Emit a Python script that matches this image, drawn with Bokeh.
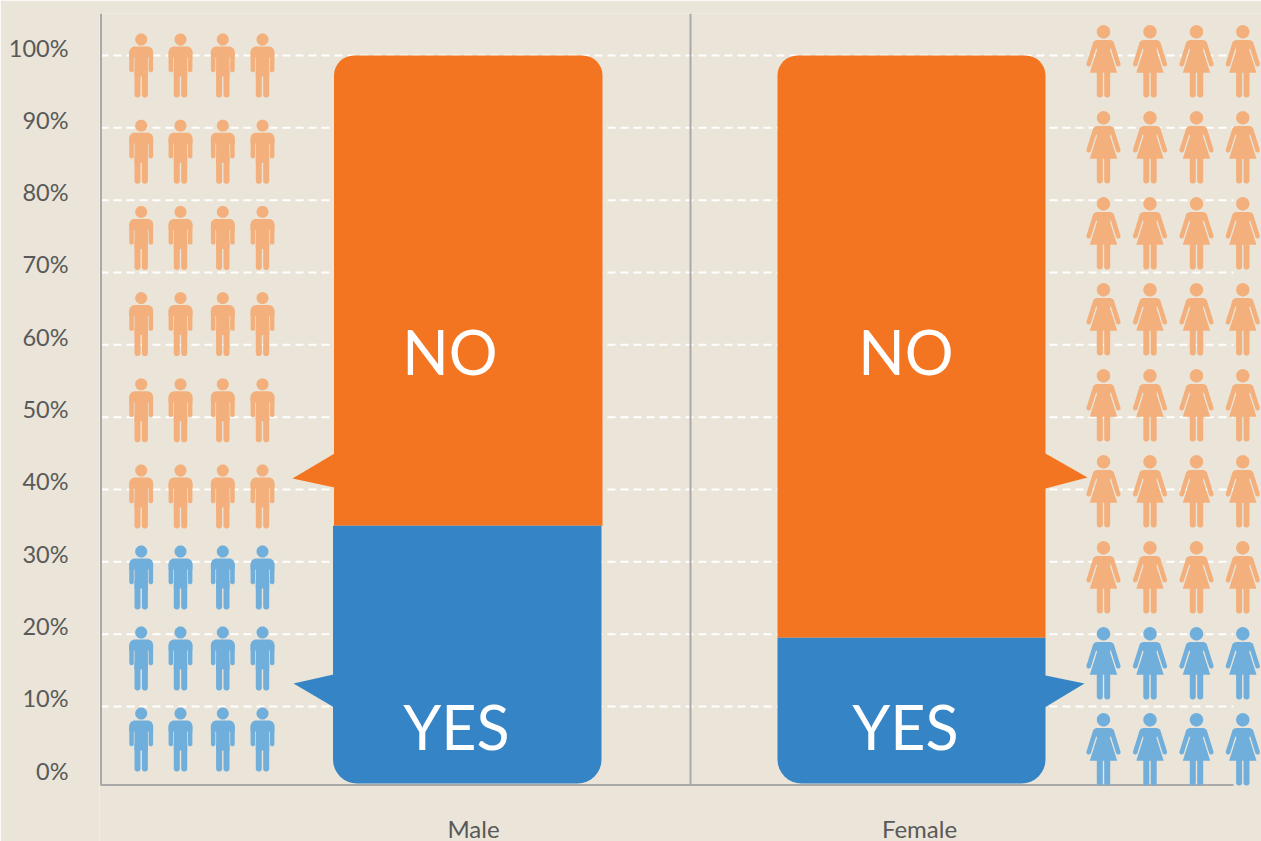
import math
from bokeh.embed import file_html
from bokeh.resources import INLINE
from bokeh.plotting import figure
from bokeh.models import Range1d, LinearAxis, FixedTicker
from bokeh.core.properties import value

# ---- data ----
categories = ["Male", "Female"]
yes_share = [35, 19.5]
no_share = [65, 80.5]
icon_yes_rows = [3, 2]
icon_no_rows = [6, 7]
y_ticks = [0, 10, 20, 30, 40, 50, 60, 70, 80, 90, 100]
y_labels = ["0%", "10%", "20%", "30%", "40%", "50%", "60%", "70%", "80%", "90%", "100%"]

# ---- colours ----
BG = "#EAE5D8"
ORANGE = "#F37521"
BLUE = "#3584C6"
L_ORANGE = "#F3B07C"
L_BLUE = "#70AEDB"
AXIS = "#A9A9A9"
TEXT = "#595959"

# ---- layout (page pixels) ----
W, H = 1261, 841
F_L, F_R, F_T, F_B = 99, 1261, 13, 841
AXIS_PX = 786
X0, XU = 473, 446          # category 0 position, pixels per category
Y0, YU = 778.3, 7.233      # 0 % position, pixels per percent


def X(px):
    return (px - X0) / XU


def Y(py):
    return (Y0 - py) / YU


def arc(cx, cy, r, a0, a1, n=8):
    return [(cx + r * math.cos(math.radians(a0 + (a1 - a0) * i / n)),
             cy + r * math.sin(math.radians(a0 + (a1 - a0) * i / n))) for i in range(n + 1)]


def rrect(l, t, r, b, rt, rb):
    pts = []
    pts += arc(l + rt, t + rt, rt, 180, 270) if rt else [(l, t)]
    pts += arc(r - rt, t + rt, rt, 270, 360) if rt else [(r, t)]
    pts += arc(r - rb, b - rb, rb, 0, 90) if rb else [(r, b)]
    pts += arc(l + rb, b - rb, rb, 90, 180) if rb else [(l, b)]
    return pts


def capsule(x1, y1, x2, y2, w):
    a = math.degrees(math.atan2(y2 - y1, x2 - x1))
    return arc(x1, y1, w / 2, a + 90, a + 270) + arc(x2, y2, w / 2, a - 90, a + 90)


def circle(r):
    return arc(0, 0, r, 0, 360, 36)


def man():
    return [
        circle(6),
        rrect(-11.9, 7, 11.9, 18, 5.5, 0),
        rrect(-11.9, 12, -7.4, 32.7, 0, 2),
        rrect(7.4, 12, 11.9, 32.7, 0, 2),
        rrect(-6.7, 12, 6.7, 37, 0, 0),
        rrect(-6.7, 30, -0.7, 58, 0, 2.8),
        rrect(0.7, 30, 6.7, 58, 0, 2.8),
    ]


def woman():
    body = arc(-6.7, 11.8, 3.5, 180, 270) + arc(6.7, 11.8, 3.5, 270, 360)
    body += [(6.4, 18), (13.7, 41), (-13.7, 41), (-6.4, 18)]
    return [
        circle(6.7),
        body,
        capsule(-8.2, 11.5, -14.8, 32.4, 4.6),
        capsule(8.2, 11.5, 14.8, 32.4, 4.6),
        rrect(-6.7, 38, -0.7, 65.7, 0, 2.8),
        rrect(0.7, 38, 6.7, 65.7, 0, 2.8),
    ]


p = figure(width=W, height=H, output_backend="svg", toolbar_location=None,
           x_range=Range1d(X(F_L), X(F_R)), y_range=Range1d(Y(F_B), Y(F_T)),
           y_axis_location=None, min_border_left=F_L, min_border_right=W - F_R,
           min_border_top=F_T, min_border_bottom=H - F_B,
           background_fill_color=BG, border_fill_color=BG, outline_line_color=None)
p.grid.visible = False

# tick labels sit slightly above their grid lines in the original
p.extra_y_ranges["labels"] = Range1d((770 - F_B) / 7.23, (770 - F_T) / 7.23)
yax = LinearAxis(y_range_name="labels", ticker=FixedTicker(ticks=y_ticks),
                 major_label_overrides=dict(zip(y_ticks, y_labels)),
                 axis_line_color=None, major_tick_line_color=None, minor_tick_line_color=None,
                 major_tick_out=0, major_tick_in=0, minor_tick_out=0, minor_tick_in=0,
                 major_label_standoff=31, major_label_text_font="Lato",
                 major_label_text_font_size="23.5px", major_label_text_color=TEXT)
p.add_layout(yax, "left")

xax = p.xaxis[0]
xax.ticker = FixedTicker(ticks=list(range(len(categories))))
xax.major_label_overrides = dict(enumerate(categories))
xax.fixed_location = Y(AXIS_PX)
xax.axis_line_color = None
xax.major_tick_line_color = None
xax.minor_tick_line_color = None
xax.major_tick_out = 0
xax.major_tick_in = 0
xax.minor_tick_out = 0
xax.minor_tick_in = 0
xax.major_label_standoff = 27
xax.major_label_text_font = "Lato"
xax.major_label_text_font_size = "24px"
xax.major_label_text_color = TEXT

# grid
grid_vals = y_ticks[1:]
p.segment([X(100)] * len(grid_vals), grid_vals, [X(1233)] * len(grid_vals), grid_vals,
          line_color="white", line_width=2, line_dash="8 5")

# spines
p.segment([X(100.5), X(690), X(100)], [Y(13), Y(13), Y(784.5)],
          [X(100.5), X(690), X(1233)], [Y(784.5), Y(784.5), Y(784.5)],
          line_color=AXIS, line_width=2)

# icons
icon_cols = [[140.7, 180, 222.3, 262], [1103, 1149.5, 1196, 1242.3]]
icon_tops = [39, 31.3]
icon_makers = [man, woman]
no_step = [86.2, 86]
yes_step = [81, 86]

xs_o, ys_o, xs_b, ys_b = [], [], [], []
for c in range(len(categories)):
    template = icon_makers[c]()
    nrows = icon_no_rows[c] + icon_yes_rows[c]
    for r in range(nrows):
        if r < icon_no_rows[c]:
            hy = icon_tops[c] + r * no_step[c]
            xs, ys = xs_o, ys_o
        else:
            hy = icon_tops[c] + (icon_no_rows[c] - 1) * no_step[c] + (r - icon_no_rows[c] + 1) * yes_step[c]
            xs, ys = xs_b, ys_b
        for cx in icon_cols[c]:
            for poly in template:
                xs.append([X(cx + a) for a, _ in poly])
                ys.append([Y(hy + b) for _, b in poly])
p.patches(xs_o, ys_o, fill_color=L_ORANGE, line_color=None)
p.patches(xs_b, ys_b, fill_color=L_BLUE, line_color=None)

# bars
no_edges = [(333.5, 602), (777, 1045)]
yes_edges = [(332.5, 601), (777, 1045)]
BOTTOM_PX = 783
RT, RB = 20, 24

bx_o, by_o, bx_b, by_b = [], [], [], []
for c in range(len(categories)):
    split = Y0 - yes_share[c] * YU
    top = Y0 - (yes_share[c] + no_share[c]) * YU
    l, r = no_edges[c]
    poly = rrect(l, top, r, split, RT, 0)
    bx_o.append([X(a) for a, _ in poly])
    by_o.append([Y(b) for _, b in poly])
    l, r = yes_edges[c]
    poly = rrect(l, split, r, BOTTOM_PX, 0, RB)
    bx_b.append([X(a) for a, _ in poly])
    by_b.append([Y(b) for _, b in poly])

# callout pointers (base runs a few pixels into the bar so no seam shows)
no_tips = [((292, 478), 334, 338, (453, 487)), ((1087, 477), 1045, 1041, (453, 488))]
yes_tips = [((293, 683), 333, 337, (674, 706.5)), ((1084, 683), 1045, 1041, (675, 706.5))]
for tips, bx, by in ((no_tips, bx_o, by_o), (yes_tips, bx_b, by_b)):
    for (tx, ty), edge, inner, (b0, b1) in tips:
        bx.append([X(tx), X(edge), X(inner), X(inner), X(edge)])
        by.append([Y(ty), Y(b0), Y(b0), Y(b1), Y(b1)])

p.patches(bx_o, by_o, fill_color=ORANGE, line_color=None)
p.patches(bx_b, by_b, fill_color=BLUE, line_color=None)

# labels on bars
p.text([X(449.5), X(905.5)], [Y(351)] * 2, text=["NO", "NO"], text_color="white",
       text_font=value("Lato"), text_font_size="61px", text_align="center", text_baseline="middle")
p.text([X(456), X(905)], [Y(726)] * 2, text=["YES", "YES"], text_color="white",
       text_font=value("Lato"), text_font_size="61px", text_align="center", text_baseline="middle")

open("out.html", "w").write(file_html(p, INLINE))
